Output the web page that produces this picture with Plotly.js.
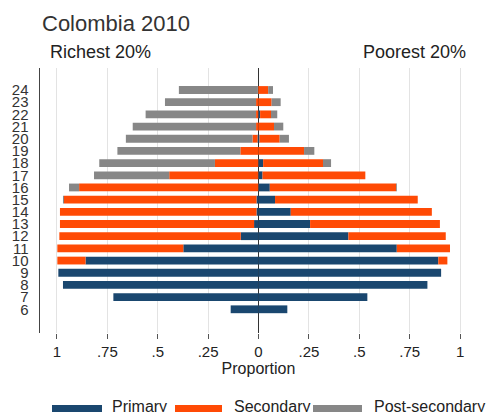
<!DOCTYPE html>
<html>
<head>
<meta charset="utf-8">
<script src="https://cdn.plot.ly/plotly-3.0.1.min.js"></script>
<style>
  html, body { margin: 0; padding: 0; background: #fff; }
  #chart { width: 493px; height: 412px; }
</style>
</head>
<body>
<div id="chart"></div>
<script>
// ---- Data ----
const ages = [6, 7, 8, 9, 10, 11, 12, 13, 14, 15, 16, 17, 18, 19, 20, 21, 22, 23, 24];

// Richest 20% (drawn to the left)
const richPrimary   = [0.138, 0.72, 0.97, 0.993, 0.858, 0.373, 0.088, 0.022, 0.01, 0.01, 0, 0, 0, 0, 0.005, 0, 0, 0, 0];
const richSecondary = [0, 0, 0, 0, 0.14, 0.625, 0.90, 0.963, 0.975, 0.955, 0.89, 0.443, 0.216, 0.09, 0.025, 0.012, 0.012, 0.012, 0.003];
const richPost      = [0, 0, 0, 0, 0, 0, 0, 0, 0, 0.005, 0.05, 0.373, 0.574, 0.61, 0.628, 0.612, 0.548, 0.452, 0.392];

// Poorest 20% (drawn to the right)
const poorPrimary   = [0.143, 0.54, 0.838, 0.906, 0.892, 0.686, 0.446, 0.256, 0.16, 0.082, 0.056, 0.02, 0.023, 0, 0.005, 0, 0.008, 0, 0];
const poorSecondary = [0, 0, 0, 0, 0.045, 0.264, 0.483, 0.644, 0.70, 0.708, 0.627, 0.51, 0.297, 0.226, 0.10, 0.077, 0.054, 0.065, 0.048];
const poorPost      = [0, 0, 0, 0, 0, 0, 0, 0, 0, 0, 0.004, 0, 0.04, 0.051, 0.046, 0.046, 0.031, 0.045, 0.024];

const seriesNames = ['Primary', 'Secondary', 'Post-secondary'];
const xTickVals = [-1, -0.75, -0.5, -0.25, 0, 0.25, 0.5, 0.75, 1];
const xTickText = ['1', '.75', '.5', '.25', '0', '.25', '.5', '.75', '1'];

// ---- Styles ----
const colors = ['#1a476f', '#ff4a05', '#878787'];
const FONT = 'Liberation Sans, Arial, sans-serif';
const W = 493, H = 412;
const M = { l: 40, r: 16, t: 68, b: 79 };
const pw = W - M.l - M.r, ph = H - M.t - M.b;
const px = x => (x - M.l) / pw;          // pixel -> paper x
const py = y => (H - M.b - y) / ph;      // pixel -> paper y

const neg = a => a.map(v => -v);
const richSets = [richPrimary, richSecondary, richPost];
const poorSets = [poorPrimary, poorSecondary, poorPost];

const traces = [];
for (let i = 0; i < 3; i++) {
  traces.push({
    type: 'bar', orientation: 'h', y: ages, x: neg(richSets[i]),
    name: seriesNames[i], legendgroup: seriesNames[i], showlegend: false,
    marker: { color: colors[i], line: { width: 0 } }
  });
}
for (let i = 0; i < 3; i++) {
  traces.push({
    type: 'bar', orientation: 'h', y: ages, x: poorSets[i],
    name: seriesNames[i], legendgroup: seriesNames[i], showlegend: false,
    marker: { color: colors[i], line: { width: 0 } }
  });
}

// custom wide legend swatches + labels
const legendItems = [
  { sx0: 52, sx1: 102, tx: 110 },
  { sx0: 175, sx1: 222, tx: 232 },
  { sx0: 313, sx1: 362, tx: 372 }
];
const shapes = legendItems.map((it, i) => ({
  type: 'rect', xref: 'paper', yref: 'paper',
  x0: px(it.sx0), x1: px(it.sx1), y0: py(420), y1: py(405),
  fillcolor: colors[i], line: { width: 0 }
}));
const annotations = legendItems.map((it, i) => ({
  xref: 'paper', yref: 'paper', x: px(it.tx), y: py(406),
  xanchor: 'left', yanchor: 'middle', showarrow: false,
  text: seriesNames[i], font: { family: FONT, size: 16, color: '#222' }
}));
annotations.push({
  xref: 'paper', yref: 'paper', x: px(48), y: py(52),
  xanchor: 'left', yanchor: 'middle', showarrow: false,
  text: 'Richest 20%', font: { family: FONT, size: 18, color: '#222' }
});
annotations.push({
  xref: 'paper', yref: 'paper', x: px(468), y: py(52),
  xanchor: 'right', yanchor: 'middle', showarrow: false,
  text: 'Poorest 20%', font: { family: FONT, size: 18, color: '#222' }
});

const layout = {
  width: W, height: H,
  margin: M,
  paper_bgcolor: '#fff', plot_bgcolor: '#fff',
  barmode: 'relative', bargap: 0.36,
  showlegend: false,
  font: { family: FONT, color: '#222' },
  title: {
    text: 'Colombia 2010', xref: 'container', yref: 'container',
    x: 42 / W, xanchor: 'left', y: 1 - 23 / H, yanchor: 'middle',
    font: { family: FONT, size: 22, color: '#333' }
  },
  xaxis: {
    range: [-1.084, 1.084],
    tickvals: xTickVals, ticktext: xTickText,
    showgrid: true, gridcolor: '#e3e3e3', gridwidth: 1,
    zeroline: true, zerolinecolor: '#333', zerolinewidth: 1.5,
    ticks: 'outside', ticklen: 5, tickcolor: '#555', tickwidth: 1,
    tickfont: { family: FONT, size: 15, color: '#222' },
    showline: false,
    title: { text: 'Proportion', standoff: 0, font: { family: FONT, size: 16, color: '#222' } },
    automargin: false, fixedrange: true
  },
  yaxis: {
    range: [4.054, 25.806],
    tickvals: ages, ticktext: ages.map(String),
    ticks: 'outside', ticklen: 7, tickcolor: 'rgba(0,0,0,0)',
    tickfont: { family: FONT, size: 15, color: '#333' },
    showline: true, linecolor: '#444', linewidth: 1.5,
    showgrid: false, zeroline: false,
    automargin: false, fixedrange: true
  },
  shapes: shapes,
  annotations: annotations
};

Plotly.newPlot('chart', traces, layout, { displayModeBar: false, staticPlot: true });
</script>
</body>
</html>
